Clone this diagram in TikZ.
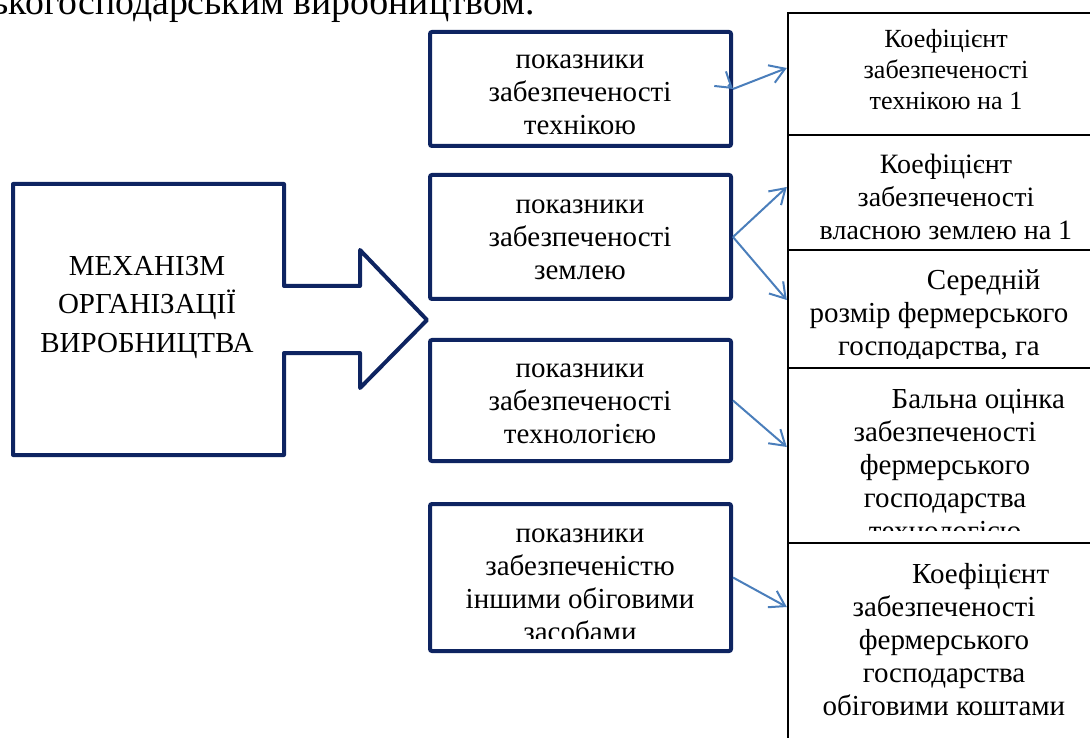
\documentclass[tikz,border=0pt]{standalone}
\usepackage{fontspec}
\setmainfont{Liberation Serif}
\usetikzlibrary{positioning, arrows.meta}
\definecolor{box_navy}{HTML}{0E2461}
\definecolor{arr_blue}{HTML}{4A7EBB}
\def\pxsz{0.75pt}

\begin{document}
\begin{tikzpicture}[
    x=0.75pt, y=-0.75pt,
    font=\fontsize{21.75pt}{24.75pt}\selectfont,
    lbox/.style={draw=box_navy, line width=3pt, rounded corners=1.5pt, minimum width={301*\pxsz}},
    rbox/.style={draw=black, line width=1.8pt, minimum width={312*\pxsz}},
    txt/.style={align=center, inner sep=0pt, anchor=base},
    arr/.style={draw=arr_blue, line width=1.5pt, -{Straight Barb[length=11pt, width=14pt, line width=1.5pt]}}
]

% --- Поле малюнка ---
\clip (0,0) rectangle (1090,738);

% --- Текст зверху (обрізаний) ---
\node[anchor=base east, inner sep=0pt, font=\fontsize{28.3pt}{33pt}\selectfont] (head) at (535,15) {сільськогосподарським виробництвом.};

% --- Велика стрілка ліворуч ---
\draw[box_navy, line width=3pt, line join=round]
    (13,184) -- (284,184) -- (284,286) -- (360,286) -- (360,250) -- (427,320)
    -- (360,388) -- (360,353) -- (284,353) -- (284,455) -- (13,455) -- cycle;
\node[txt, font=\fontsize{21.75pt}{29.25pt}\selectfont] (mech) at (147,353) {МЕХАНІЗМ\\ОРГАНІЗАЦІЇ\\ВИРОБНИЦТВА};

% --- Сині рамки (показники) ---
\node[lbox, minimum height={114*\pxsz}] (tech) at (580.5,89) {};
\node[lbox, minimum height={124*\pxsz}] (land) at (580.5,237) {};
\node[lbox, minimum height={121*\pxsz}] (techn) at (580.5,400.5) {};
\node[lbox, minimum height={147*\pxsz}] (funds) at (580.5,577.5) {};

\node[txt] (tech_t) at (580,135) {показники\\забезпеченості\\технікою};
\node[txt] (land_t) at (580,280) {показники\\забезпеченості\\землею};
\node[txt] (techn_t) at (580,443) {показники\\забезпеченості\\технологією};
\begin{scope}
    \clip (434,508) rectangle (727,638);
    \node[txt] (funds_t) at (580,641) {показники\\забезпеченістю\\іншими обіговими\\засобами};
\end{scope}

% --- Чорні рамки (коефіцієнти) ---
\node[rbox, minimum height={122*\pxsz}] (kt) at (944,74) {};
\node[rbox, minimum height={115*\pxsz}] (kl) at (944,192.5) {};
\node[rbox, minimum height={118*\pxsz}] (sz) at (944,309) {};
\node[rbox, minimum height={175*\pxsz}] (bal) at (944,455.5) {};
\node[rbox, minimum height={227*\pxsz}] (kf) at (944,656.5) {};

\node[txt, font=\fontsize{19.6pt}{23.6pt}\selectfont] (kt_t) at (946,110) {Коефіцієнт\\забезпеченості\\технікою на 1};
\node[txt, font=\fontsize{21pt}{25.1pt}\selectfont] (kl_t) at (946,240) {Коефіцієнт\\забезпеченості\\власною землею на 1};
\begin{scope}
    \clip (790,252) rectangle (1090,358);
    \node[txt] (sz_t) at (939,355) {\hspace*{67pt}Середній\\розмір фермерського\\господарства, га};
\end{scope}
\begin{scope}
    \clip (790,370) rectangle (1090,530);
    \node[txt] (bal_t) at (945,540) {\hspace*{50pt}Бальна оцінка\\забезпеченості\\фермерського\\господарства\\технологією};
\end{scope}
\node[txt] (kf_t) at (944,715) {\hspace*{55pt}Коефіцієнт\\забезпеченості\\фермерського\\господарства\\обіговими коштами};

% --- Стрілки ---
\draw[arr] ([shift={(-5,-4)}]tech.east) -- (tech.east);
\draw[arr] (tech.east) -- ([shift={(0,-6)}]kt.west);
\draw[arr] (land.east) -- ([shift={(0,-5.5)}]kl.west);
\draw[arr] (land.east) -- ([shift={(0,-9)}]sz.west);
\draw[arr] (techn.east) -- ([shift={(0,-8.5)}]bal.west);
\draw[arr] (funds.east) -- ([shift={(0,-49.5)}]kf.west);

\end{tikzpicture}
\end{document}
